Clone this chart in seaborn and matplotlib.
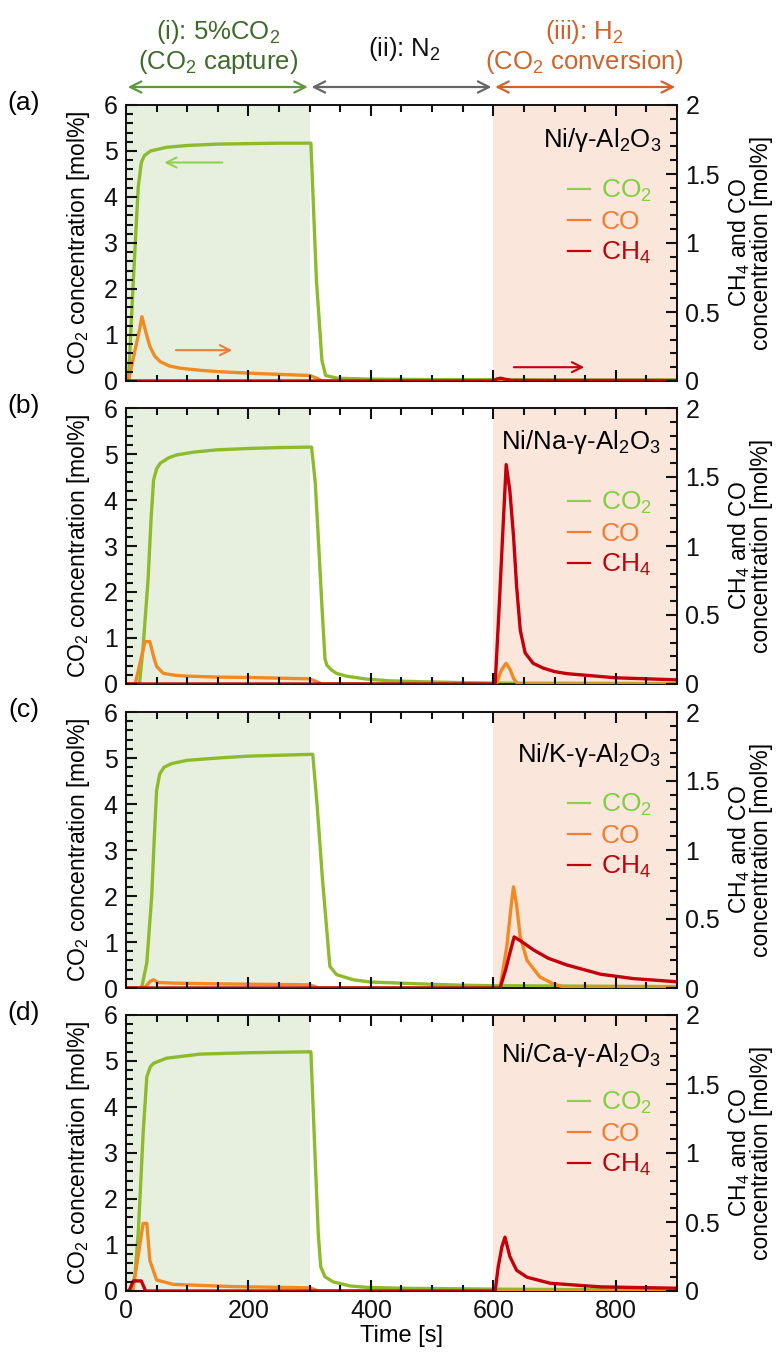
import numpy as np
import pandas as pd
import matplotlib
matplotlib.use("Agg")
import matplotlib.pyplot as plt
from matplotlib.lines import Line2D
from matplotlib.ticker import MultipleLocator
import seaborn as sns

# --- data (time [s], concentration [mol%]) ---
# CO2 is on the left axis (0-6), CO and CH4 on the right axis (0-2)

# (a) Ni/g-Al2O3
A_CO2_T = [0, 4, 12, 20, 25, 30, 40, 66, 100, 150, 200, 250, 302, 311, 320, 326, 345, 400, 500, 600, 700, 900]
A_CO2 = [0, 0, 2.2, 4.22, 4.75, 4.9, 5.0, 5.08, 5.12, 5.15, 5.16, 5.17, 5.17, 2.2, 0.45, 0.12, 0.06, 0.04, 0.03, 0.03, 0.02, 0.02]
A_CO_T = [0, 4, 15, 22, 26, 32, 39, 47, 56, 70, 88, 120, 154, 200, 250, 300, 312, 320, 900]
A_CO = [0, 0, 0.23, 0.37, 0.467, 0.36, 0.25, 0.18, 0.14, 0.11, 0.093, 0.078, 0.067, 0.057, 0.048, 0.04, 0.02, 0, 0]
A_CH4_T = [0, 600, 606, 612, 620, 630, 900]
A_CH4 = [0, 0, 0.015, 0.02, 0.012, 0.004, 0.004]

# (b) Ni/Na-g-Al2O3
B_CO2_T = [0, 22, 28, 36, 41, 45, 50, 56, 70, 83, 110, 148, 200, 250, 303, 309, 314, 320, 325, 328, 336, 344, 360, 371, 391, 430, 480, 550, 600, 900]
B_CO2 = [0, 0, 0.81, 2.26, 3.6, 4.43, 4.68, 4.8, 4.92, 4.98, 5.04, 5.09, 5.12, 5.14, 5.15, 4.4, 3.2, 1.7, 0.55, 0.41, 0.3, 0.23, 0.17, 0.15, 0.11, 0.07, 0.05, 0.03, 0.02, 0.01]
B_CO_T = [0, 15, 31, 39, 45, 50, 61, 80, 99, 150, 208, 300, 310, 320, 605, 613, 621, 628, 633, 640, 900]
B_CO = [0, 0, 0.307, 0.307, 0.2, 0.127, 0.077, 0.063, 0.057, 0.05, 0.047, 0.037, 0.02, 0, 0, 0.1, 0.15, 0.1, 0.04, 0, 0]
B_CH4_T = [0, 603, 610, 616, 621, 627, 633, 638, 644, 652, 665, 681, 700, 720, 800, 900]
B_CH4 = [0, 0, 0.6, 1.15, 1.59, 1.4, 1.07, 0.71, 0.39, 0.225, 0.15, 0.116, 0.09, 0.075, 0.045, 0.03]

# (c) Ni/K-g-Al2O3
C_CO2_T = [0, 22, 26, 34, 42, 46, 50, 55, 62, 75, 100, 150, 200, 250, 305, 312, 321, 333, 344, 371, 399, 480, 550, 600, 900]
C_CO2 = [0, 0, 0.03, 0.55, 2.0, 3.2, 4.3, 4.65, 4.8, 4.88, 4.95, 5.0, 5.04, 5.06, 5.08, 4.0, 2.35, 0.47, 0.29, 0.18, 0.13, 0.09, 0.06, 0.05, 0.03]
C_CO_T = [0, 30, 40, 45, 52, 80, 150, 300, 315, 611, 622, 630, 633, 638, 644, 655, 676, 698, 720, 900]
C_CO = [0, 0, 0.05, 0.06, 0.04, 0.035, 0.03, 0.023, 0, 0, 0.3, 0.63, 0.733, 0.6, 0.37, 0.2, 0.08, 0.03, 0, 0]
C_CH4_T = [0, 611, 620, 628, 634, 645, 666, 690, 720, 775, 829, 900]
C_CH4 = [0, 0, 0.13, 0.27, 0.37, 0.34, 0.275, 0.215, 0.167, 0.1, 0.068, 0.045]

# (d) Ni/Ca-g-Al2O3
D_CO2_T = [0, 10, 15, 20, 28, 34, 40, 45, 66, 121, 200, 302, 308, 314, 318, 325, 338, 366, 393, 450, 600, 900]
D_CO2 = [0, 0, 0.4, 1.26, 3.43, 4.66, 4.88, 4.95, 5.06, 5.15, 5.18, 5.2, 3.2, 1.26, 0.53, 0.31, 0.2, 0.11, 0.08, 0.06, 0.04, 0.02]
D_CO_T = [0, 11, 28, 34, 39, 50, 77, 175, 300, 315, 900]
D_CO = [0, 0, 0.49, 0.49, 0.22, 0.08, 0.048, 0.032, 0.023, 0, 0]
D_CH4_T = [0, 5, 12, 25, 32, 603, 608, 614, 619, 627, 638, 655, 693, 775, 900]
D_CH4 = [0, 0, 0.073, 0.073, 0, 0, 0.176, 0.32, 0.39, 0.25, 0.15, 0.1, 0.056, 0.03, 0.02]

PANEL_LETTERS = ["(a)", "(b)", "(c)", "(d)"]
CATALYSTS = ["Ni/γ-Al$_2$O$_3$", "Ni/Na-γ-Al$_2$O$_3$", "Ni/K-γ-Al$_2$O$_3$", "Ni/Ca-γ-Al$_2$O$_3$"]
SPECIES = ["CO$_2$", "CO", "CH$_4$"]

panels = [
    (A_CO2_T, A_CO2, A_CO_T, A_CO, A_CH4_T, A_CH4),
    (B_CO2_T, B_CO2, B_CO_T, B_CO, B_CH4_T, B_CH4),
    (C_CO2_T, C_CO2, C_CO_T, C_CO, C_CH4_T, C_CH4),
    (D_CO2_T, D_CO2, D_CO_T, D_CO, D_CH4_T, D_CH4),
]

# colours
CO2_LINE = "#8dbb2c"
CO_LINE = "#f28a24"
CH4_LINE = "#c3000b"
CO2_TEXT = "#7fcf3f"
CO_TEXT = "#f47c30"
GREEN_BG = "#e7f0de"
ORANGE_BG = "#fbe6dc"
AXIS_COL = "#111111"

plt.rcParams.update({
    "font.family": ["Liberation Sans", "DejaVu Sans"],
    "mathtext.default": "regular",
    "axes.linewidth": 1.2,
    "axes.edgecolor": AXIS_COL,
    "xtick.direction": "in",
    "ytick.direction": "in",
    "xtick.major.size": 8,
    "xtick.minor.size": 4.5,
    "ytick.major.size": 8,
    "ytick.minor.size": 4.5,
    "xtick.major.width": 1.4,
    "xtick.minor.width": 1.4,
    "ytick.major.width": 1.4,
    "ytick.minor.width": 1.4,
    "xtick.color": AXIS_COL,
    "ytick.color": AXIS_COL,
})

fig = plt.figure(figsize=(7.81, 13.53), dpi=100)

W, H = 781, 1353
left_px, right_px = 126, 677
tops_px = [105, 408, 712, 1015]
height_px = 276
width_px = right_px - left_px
title_off = [35, 34, 43, 40]
legend_off = [73, 82, 80, 75]
MAJ_PX, MIN_PX = 11, 6.5


def inward_ticks(ax, ax2):
    """Inward tick marks on all four sides, placed from the axes' own locators."""
    kw = dict(color=AXIS_COL, lw=1.5, clip_on=False, solid_capstyle="butt", zorder=6)
    xt = ax.get_xaxis_transform()
    lo, hi = ax.get_xlim()
    for locs, L in ((ax.xaxis.get_majorticklocs(), MAJ_PX), (ax.xaxis.get_minorticklocs(), MIN_PX)):
        f = L / height_px
        for x in locs:
            if lo <= x <= hi:
                ax2.add_line(Line2D([x, x], [0, f], transform=xt, **kw))
                ax2.add_line(Line2D([x, x], [1, 1 - f], transform=xt, **kw))
    for a, x0, sgn in ((ax, 0, 1), (ax2, 1, -1)):
        yt = a.get_yaxis_transform()
        lo, hi = a.get_ylim()
        for locs, L in ((a.yaxis.get_majorticklocs(), MAJ_PX), (a.yaxis.get_minorticklocs(), MIN_PX)):
            f = L / width_px
            for y in locs:
                if lo <= y <= hi:
                    ax2.add_line(Line2D([x0, x0 + sgn * f], [y, y], transform=yt, **kw))


for i, (t1, co2, t2, co, t3, ch4) in enumerate(panels):
    ax = fig.add_axes([left_px / W, 1 - (tops_px[i] + height_px) / H,
                       width_px / W, height_px / H])
    ax2 = ax.twinx()

    ax.axvspan(0, 300, color=GREEN_BG, lw=0, zorder=0)
    ax.axvspan(600, 900, color=ORANGE_BG, lw=0, zorder=0)

    sns.lineplot(x=t1, y=co2, ax=ax, color=CO2_LINE, linewidth=2.4, sort=False, estimator=None, zorder=3)
    sns.lineplot(x=t2, y=co, ax=ax2, color=CO_LINE, linewidth=2.4, sort=False, estimator=None, zorder=3)
    sns.lineplot(x=t3, y=ch4, ax=ax2, color=CH4_LINE, linewidth=2.4, sort=False, estimator=None, zorder=4)

    ax.set_xlim(0, 900)
    ax.set_ylim(0, 6)
    ax2.set_ylim(0, 2)
    ax.xaxis.set_major_locator(MultipleLocator(200))
    ax.xaxis.set_minor_locator(MultipleLocator(50))
    ax.yaxis.set_major_locator(MultipleLocator(1))
    ax.yaxis.set_minor_locator(MultipleLocator(0.2))
    ax2.set_yticks([0, 0.5, 1, 1.5, 2])
    ax2.set_yticklabels(["0", "0.5", "1", "1.5", "2"])
    ax2.yaxis.set_minor_locator(MultipleLocator(0.1))

    ax.tick_params(axis="x", which="both", top=True, bottom=True, labelsize=18, pad=6)
    ax.tick_params(axis="y", which="both", left=True, right=False, labelsize=18, pad=6)
    ax2.tick_params(axis="y", which="both", left=False, right=True, labelsize=18, pad=6)

    ax.set_ylabel("CO$_2$ concentration [mol%]", fontsize=16.5)
    ax.yaxis.set_label_coords(-0.062, 0.5)
    ax2.set_ylabel("CH$_4$ and CO\nconcentration [mol%]", fontsize=16.5, linespacing=0.85)
    ax2.yaxis.set_label_coords(1.09, 0.5)

    if i < 3:
        ax.set_xticklabels([])
        ax.set_xlabel("")
    else:
        ax.set_xlabel("Time [s]", fontsize=17, labelpad=1)

    ax.text(0.971, 1 - title_off[i] / height_px, CATALYSTS[i], transform=ax.transAxes,
            ha="right", va="center", fontsize=18.5, zorder=6)
    fig.text(24 / W, 1 - (tops_px[i] - 2) / H, PANEL_LETTERS[i], ha="center", va="center", fontsize=19)

    handles = [Line2D([], [], color=c, lw=1.6) for c in ("#8ed14f", CO_TEXT, CH4_LINE)]
    ax2.legend(handles, SPECIES, loc="upper right", bbox_to_anchor=(0.954, 1 - legend_off[i] / height_px),
               frameon=False, fontsize=19, handlelength=0.85, handletextpad=0.4,
               labelspacing=0.22, borderpad=0, borderaxespad=0,
               labelcolor=[CO2_TEXT, CO_TEXT, CH4_LINE])
    ax.set_zorder(ax2.get_zorder() - 1)
    ax.patch.set_visible(False)

    inward_ticks(ax, ax2)

    if i == 0:
        ax.annotate("", xy=(58, 4.75), xytext=(162, 4.75),
                    arrowprops=dict(arrowstyle="->", color="#8ed14f", lw=1.5, mutation_scale=18))
        ax.annotate("", xy=(178, 0.67), xytext=(77, 0.67),
                    arrowprops=dict(arrowstyle="->", color="#f07a3a", lw=1.5, mutation_scale=18))
        ax2.annotate("", xy=(753, 0.1), xytext=(629, 0.1),
                     arrowprops=dict(arrowstyle="->", color=CH4_LINE, lw=1.5, mutation_scale=18))
        # step headers
        yy = 1 + 18 / height_px
        for x0, x1, col in ((3, 297, "#5a9a3c"), (303, 597, "#666666"), (603, 897, "#d0622a")):
            ax.annotate("", xy=(x0, yy), xytext=(x1, yy), xycoords=("data", "axes fraction"),
                        textcoords=("data", "axes fraction"), annotation_clip=False,
                        arrowprops=dict(arrowstyle="<->", color=col, lw=1.6, mutation_scale=20,
                                        shrinkA=0, shrinkB=0))

fig.text(218 / W, 1 - 47 / H, "(i): 5%CO$_2$\n(CO$_2$ capture)", ha="center", va="center",
         fontsize=18.5, color="#3e6b2a", linespacing=1.1)
fig.text(404 / W, 1 - 49 / H, "(ii): N$_2$", ha="center", va="center", fontsize=18.5, color="#111111")
fig.text(584 / W, 1 - 47 / H, "(iii): H$_2$\n(CO$_2$ conversion)", ha="center", va="center",
         fontsize=18.5, color="#d0622a", linespacing=1.1)

fig.savefig("out.png", dpi=100)
